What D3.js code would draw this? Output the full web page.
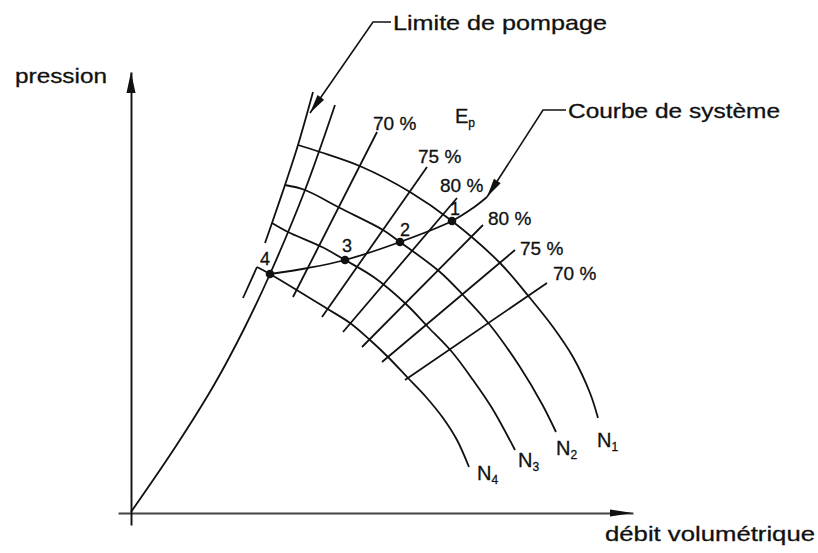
<!DOCTYPE html>
<html>
<head>
<meta charset="utf-8">
<script src="https://cdn.jsdelivr.net/npm/d3@7"></script>
<style>
  html, body { margin: 0; padding: 0; background: #fff; }
  svg { display: block; }
  text { font-family: "Liberation Sans", Arial, Helvetica, sans-serif; fill: #111; stroke: #111; stroke-width: 0.3px; }
</style>
</head>
<body>
<svg id="chart" width="818" height="553"></svg>
<script>
// Compressor characteristic map: pressure vs. volumetric flow,
// speed lines N1..N4, efficiency lines Ep, surge limit and system curve.

// ---- data (flow, pressure) in relative units ----
const speedNames = ["N1", "N2", "N3", "N4"];
const speedN1 = [[33.4,73.4],[37.8,72.0],[46.2,69.0],[55.8,64.0],[64.2,58.2],[73.8,49.8],[79.8,42.8],[84.4,37.0],[88.4,31.0],[91.8,23.8],[93.4,18.8]];
const speedN2 = [[30.8,65.4],[34.8,64.4],[41.8,60.8],[50.4,56.4],[53.8,54.0],[61.8,48.0],[66.4,43.4],[71.8,37.4],[77.8,29.0],[82.2,21.6],[85.0,16.0]];
const speedN3 = [[28.2,57.8],[31.4,56.0],[38.2,53.0],[42.8,50.4],[48.8,46.8],[55.2,41.4],[59.4,37.0],[64.2,32.0],[68.4,26.4],[72.2,20.8],[76.8,12.4]];
const speedN4 = [[25.2,49.0],[27.8,47.6],[39.0,40.8],[43.8,37.8],[47.8,34.4],[51.4,31.0],[55.4,26.8],[59.0,23.0],[62.4,18.8],[65.2,14.4],[67.6,9.0]];

const effLabels = ["70 %", "75 %", "80 %", "80 %", "75 %", "70 %"];
const effTop    = [[49.2,76.0],[59.2,69.0],[65.2,62.8],[70.4,57.4],[76.8,52.4],[83.2,45.8]];
const effBottom = [[32.4,43.0],[38.2,39.0],[42.4,36.0],[46.2,33.0],[50.2,30.0],[54.8,26.4]];

// surge limit: main curve from the origin, and the outer limit strokes
const surgeLine     = [[0,0],[9.0,13.2],[16.6,25.4],[22.6,36.6],[27.8,47.6],[34.8,64.4],[40.8,81.4]];
const surgeOuterTop = [[36.4,84.0],[33.4,73.4],[30.8,65.4],[28.2,57.8],[26.8,53.8]];
const surgeOuterLow = [[25.2,49.0],[22.4,42.8]];

// system curve and operating points
const systemCurve = [[27.8,47.6],[35.4,48.8],[42.8,50.4],[53.8,54.0],[64.2,58.2],[68.4,60.8],[71.2,63.0]];
const opLabels = ["1", "2", "3", "4"];
const opFlow   = [64.2, 53.8, 42.8, 27.8];
const opPress  = [58.2, 54.0, 50.4, 47.6];

// ---- layout ----
const svg = d3.select("#chart");
const x = d3.scaleLinear().domain([0, 100]).range([131, 631]);
const y = d3.scaleLinear().domain([0, 100]).range([512, 12]);
const INK = "#111";
const LW = 1.8;

const smooth = d3.line().x(d => x(d[0])).y(d => y(d[1])).curve(d3.curveCatmullRom.alpha(0.5));
const straight = d3.line().x(d => x(d[0])).y(d => y(d[1]));

function arrowHead(tip, from, len, hw) {
  const dx = tip[0] - from[0], dy = tip[1] - from[1];
  const L = Math.hypot(dx, dy), ux = dx / L, uy = dy / L;
  const bx = tip[0] - ux * len, by = tip[1] - uy * len;
  return `M${tip[0]},${tip[1]}L${bx - uy * hw},${by + ux * hw}L${bx + uy * hw},${by - ux * hw}Z`;
}

// axes (no ticks, only the arrowed lines)
const xAxisScale = d3.scaleLinear().domain([-2.6, 100.4]).range([x(-2.6), x(100.4)]);
const yAxisScale = d3.scaleLinear().domain([-2.6, 88]).range([y(-2.6), y(88)]);

const gx = svg.append("g").attr("transform", `translate(0,${y(0) + 1})`)
  .call(d3.axisBottom(xAxisScale).tickValues([]).tickSizeOuter(0));
gx.select(".domain").attr("stroke", "#444").attr("stroke-width", 2);
svg.append("path")
  .attr("d", arrowHead([xAxisScale.range()[1], y(0) + 1], [0, y(0) + 1], 23, 3.6))
  .attr("fill", INK);

const gy = svg.append("g").attr("transform", `translate(${x(0)},0)`)
  .call(d3.axisLeft(yAxisScale).tickValues([]).tickSizeOuter(0));
gy.select(".domain").attr("stroke", INK).attr("stroke-width", 1.9);
svg.append("path")
  .attr("d", arrowHead([x(0), yAxisScale.range()[1]], [x(0), 600], 21, 4.5))
  .attr("fill", INK);

svg.append("text").attr("x", 15).attr("y", 83).attr("font-size", 21)
  .attr("textLength", 92).attr("lengthAdjust", "spacingAndGlyphs").text("pression");
svg.append("text").attr("x", 605).attr("y", 541).attr("font-size", 21)
  .attr("textLength", 210).attr("lengthAdjust", "spacingAndGlyphs").text("débit volumétrique");

// speed lines
const speeds = [speedN1, speedN2, speedN3, speedN4];
const speedLabelOffset = [[-1, 29], [0, 23], [3, 17], [8, 13]];
svg.append("g").selectAll("path").data(speeds).join("path")
  .attr("d", smooth).attr("fill", "none").attr("stroke", INK).attr("stroke-width", LW);

svg.append("g").selectAll("text").data(speeds).join("text")
  .attr("x", (d, i) => x(d[d.length - 1][0]) + speedLabelOffset[i][0])
  .attr("y", (d, i) => y(d[d.length - 1][1]) + speedLabelOffset[i][1])
  .attr("font-size", 20)
  .each(function (d, i) {
    const t = d3.select(this);
    t.append("tspan").text(speedNames[i][0]);
    t.append("tspan").attr("font-size", 12).attr("dy", 4).text(speedNames[i].slice(1));
  });

// efficiency lines
const effSegments = effTop.map((t, i) => [t, effBottom[i]]);
svg.append("g").selectAll("path").data(effSegments).join("path")
  .attr("d", straight).attr("fill", "none").attr("stroke", INK).attr("stroke-width", LW);

const effLabelOffset = [[-4, -2], [-9, -4], [-17, -6], [5, 0], [5, 5], [6, -3]];
svg.append("g").selectAll("text").data(effTop).join("text")
  .attr("x", (d, i) => x(d[0]) + effLabelOffset[i][0])
  .attr("y", (d, i) => y(d[1]) + effLabelOffset[i][1])
  .attr("font-size", 19)
  .text((d, i) => effLabels[i]);

const ep = svg.append("text").attr("x", x(64.8)).attr("y", y(77.8)).attr("font-size", 20);
ep.append("tspan").text("E");
ep.append("tspan").attr("font-size", 12).attr("dy", 4).text("p");

// surge limit
svg.append("path").attr("d", smooth(surgeLine)).attr("fill", "none")
  .attr("stroke", INK).attr("stroke-width", LW);
svg.append("path").attr("d", smooth(surgeOuterTop)).attr("fill", "none")
  .attr("stroke", INK).attr("stroke-width", LW);
svg.append("path").attr("d", straight(surgeOuterLow)).attr("fill", "none")
  .attr("stroke", INK).attr("stroke-width", LW);

// system curve with operating points
svg.append("path").attr("d", smooth(systemCurve)).attr("fill", "none")
  .attr("stroke", INK).attr("stroke-width", LW);

const opLabelOffset = [[3, -6], [5, -6], [2, -8], [-5, -9]];
svg.append("g").selectAll("circle").data(opFlow).join("circle")
  .attr("cx", d => x(d)).attr("cy", (d, i) => y(opPress[i])).attr("r", 4.3).attr("fill", INK);
svg.append("g").selectAll("text").data(opFlow).join("text")
  .attr("x", (d, i) => x(d) + opLabelOffset[i][0])
  .attr("y", (d, i) => y(opPress[i]) + opLabelOffset[i][1])
  .attr("text-anchor", "middle").attr("font-size", 18)
  .text((d, i) => opLabels[i]);

// callouts
function callout(pts, label, textPos, width) {
  const p = pts.map(d => [x(d[0]), y(d[1])]);
  svg.append("path").attr("d", d3.line()(p)).attr("fill", "none")
    .attr("stroke", INK).attr("stroke-width", 1.6);
  svg.append("path").attr("d", arrowHead(p[p.length - 1], p[p.length - 2], 19, 4)).attr("fill", INK);
  svg.append("text").attr("x", x(textPos[0])).attr("y", y(textPos[1])).attr("font-size", 21)
    .attr("textLength", width).attr("lengthAdjust", "spacingAndGlyphs").text(label);
}
callout([[52.0, 98.0], [48.4, 98.0], [35.8, 79.8]], "Limite de pompage", [52.4, 96.4], 214);
const sysEnd = systemCurve[systemCurve.length - 1];
callout([[87.0, 80.4], [82.4, 80.4], sysEnd], "Courbe de système", [87.4, 78.8], 212);
</script>
</body>
</html>
